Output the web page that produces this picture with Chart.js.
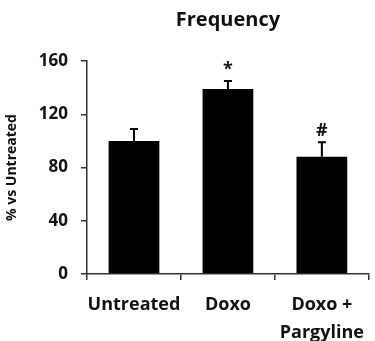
<!DOCTYPE html>
<html>
<head>
<meta charset="utf-8">
<script src="https://cdn.jsdelivr.net/npm/chart.js@4/dist/chart.umd.min.js"></script>
<style>
  html, body { margin: 0; padding: 0; background: #fff; }
  #wrap { width: 375px; height: 341px; }
</style>
</head>
<body>
<div id="wrap"><canvas id="freqChart"></canvas></div>
<script>
// values
const categories = ['Untreated', 'Doxo', ['Doxo +', 'Pargyline']];
const meanValues = [100, 139, 88];
const errorValues = [9, 6, 11];
const sigMarks = ['', '*', '#'];
const yTicks = [0, 40, 80, 120, 160];

const FONT = '"Open Sans", "Liberation Sans", sans-serif';

// upward-only error bars with caps + significance marks
const errorBarPlugin = {
    id: 'errorBars',
    afterDatasetsDraw(chart) {
        const ctx = chart.ctx;
        const x = chart.scales.x;
        const y = chart.scales.y;
        ctx.save();
        ctx.strokeStyle = '#000';
        ctx.lineWidth = 2;
        meanValues.forEach((v, i) => {
            const px = x.getPixelForValue(i);
            const yTop = y.getPixelForValue(v);
            const yErr = y.getPixelForValue(v + errorValues[i]);
            ctx.beginPath();
            ctx.moveTo(px, yTop);
            ctx.lineTo(px, yErr);
            ctx.moveTo(px - 4, yErr);
            ctx.lineTo(px + 4, yErr);
            ctx.stroke();
            if (sigMarks[i]) {
                ctx.fillStyle = '#111';
                ctx.font = 'bold 18px ' + FONT;
                ctx.textAlign = 'center';
                ctx.textBaseline = 'bottom';
                ctx.fillText(sigMarks[i], px, yErr - 2);
            }
        });
        ctx.restore();
    }
};

const ctx = document.getElementById('freqChart').getContext('2d');

new Chart(ctx, {
    type: 'bar',
    data: {
        labels: categories,
        datasets: [{
            data: meanValues,
            backgroundColor: '#000',
            borderWidth: 0,
            barPercentage: 0.54,
            categoryPercentage: 1
        }]
    },
    options: {
        responsive: true,
        maintainAspectRatio: false,
        animation: false,
        layout: {
            padding: { left: 0, right: 2, top: 0, bottom: 0 }
        },
        scales: {
            x: {
                grid: {
                    display: true,
                    drawOnChartArea: false,
                    drawTicks: true,
                    tickLength: 6,
                    color: '#333',
                    lineWidth: 1.5
                },
                border: { display: true, color: '#333', width: 1.5 },
                ticks: {
                    color: '#111',
                    padding: 10,
                    autoSkip: false,
                    maxRotation: 0,
                    font: { family: FONT, size: 18, weight: 'bold', lineHeight: 1.6 }
                },
                afterFit(scale) { scale.height = 67; }
            },
            y: {
                min: 0,
                max: 160,
                afterBuildTicks(scale) {
                    scale.ticks = yTicks.map(v => ({ value: v }));
                },
                grid: {
                    display: true,
                    drawOnChartArea: false,
                    drawTicks: true,
                    tickLength: 6,
                    color: '#333',
                    lineWidth: 1.5
                },
                border: { display: true, color: '#333', width: 1.5 },
                ticks: {
                    color: '#111',
                    padding: 13,
                    font: { family: FONT, size: 17, weight: 'bold' }
                },
                title: {
                    display: true,
                    text: '% vs Untreated',
                    color: '#111',
                    padding: { top: 4, bottom: 0 },
                    font: { family: FONT, size: 14, weight: 'bold' }
                },
                afterFit(scale) { scale.width = 87; }
            }
        },
        plugins: {
            legend: { display: false },
            tooltip: { enabled: false },
            title: {
                display: true,
                fullSize: false,
                text: 'Frequency',
                color: '#111',
                padding: { top: 8, bottom: 29 },
                font: { family: FONT, size: 20, weight: 'bold' }
            }
        }
    },
    plugins: [errorBarPlugin]
});
</script>
</body>
</html>
